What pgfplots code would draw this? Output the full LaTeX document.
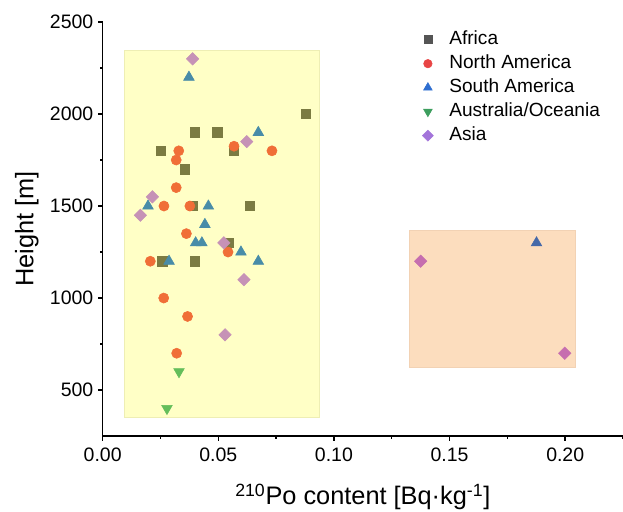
\documentclass[border=0pt]{standalone}
\usepackage{pgfplots}
\pgfplotsset{compat=1.18}
\usepackage{fontspec}
\setmainfont{Liberation Sans}
\definecolor{yfill}{HTML}{FFFFC6}
\definecolor{ydraw}{HTML}{EEEEB4}
\definecolor{ofill}{HTML}{FCDDBE}
\definecolor{odraw}{HTML}{F2D2B4}
\definecolor{cAfr}{HTML}{7B7B42}
\definecolor{cNA}{HTML}{F06E37}
\definecolor{cSA}{HTML}{488CA8}
\definecolor{cAus}{HTML}{64BE5A}
\definecolor{cAsia}{HTML}{C692B6}
\definecolor{cSAo}{HTML}{4669A8}
\definecolor{cAsiao}{HTML}{C66EAF}
\definecolor{lAfr}{HTML}{555555}
\definecolor{lNA}{HTML}{E84545}
\definecolor{lSA}{HTML}{2E6ED0}
\definecolor{lAus}{HTML}{3D9E5E}
\definecolor{lAsia}{HTML}{A374DA}
\begin{document}
\begin{tikzpicture}
\begin{axis}[
  scale only axis, width=390.2pt, height=310.5pt,
  xmin=0, xmax=0.225, ymin=250, ymax=2500,
  axis x line*=bottom, axis y line*=left,
  axis line style={line width=1.1pt, -},
  tick style={line width=1.1pt, black},
  tick align=outside,
  major tick length=3.5pt, minor tick length=2pt,
  xtick={0,0.05,0.1,0.15,0.2}, minor xtick={0.025,0.075,0.125,0.175,0.225},
  ytick={500,1000,1500,2000,2500}, minor ytick={750,1250,1750,2250},
  xticklabels={0.00,0.05,0.10,0.15,0.20},
  yticklabels={500,1000,1500,2000,2500},
  /pgf/number format/assume math mode=true,
  /pgf/number format/set thousands separator={},
  ticklabel style={font=\fontsize{14.6}{17}\selectfont},
  xticklabel style={yshift=-2pt},
  every axis x label/.style={at={(axis description cs:0.5,-0.147)}, anchor=center, font=\fontsize{19}{22}\selectfont},
  every axis y label/.style={at={(axis description cs:-0.1456,0.5)}, anchor=center, rotate=90, font=\fontsize{19}{22}\selectfont},
  xlabel={\textsuperscript{210}Po content [Bq·kg\textsuperscript{-1}]},
  ylabel={Height [m]},
  legend style={at={(axis description cs:0.614,0.987)}, anchor=north west, draw=none, fill=none, inner sep=0pt,
    font=\fontsize{14.3}{17}\selectfont, row sep=0pt,
    nodes={text height=10.5pt, text depth=3.5pt, inner ysep=2pt},
    /tikz/every odd column/.append style={column sep=10pt}},
  legend cell align=left,
  clip=false,
]
\addplot[fill=yfill, draw=ydraw, line width=0.6pt, forget plot] coordinates {(0.0093,353) (0.0936,353) (0.0936,2343) (0.0093,2343)} -- cycle;
\addplot[fill=ofill, draw=odraw, line width=0.6pt, forget plot] coordinates {(0.1326,625) (0.2045,625) (0.2045,1367) (0.1326,1367)} -- cycle;

\addplot[only marks, mark=square*, mark size=3.5pt, color=cAfr, forget plot] coordinates {
(0.0878,2000)(0.0398,1900)(0.0496,1900)(0.0252,1800)(0.0568,1800)(0.0356,1700)(0.0389,1500)(0.0635,1500)(0.0546,1300)(0.0258,1200)(0.0398,1200)};
\addplot[only marks, mark=*, mark size=3.8pt, color=cNA, forget plot] coordinates {
(0.0329,1800)(0.0318,1750)(0.0568,1825)(0.0732,1800)(0.0318,1600)(0.0265,1500)(0.0377,1500)(0.0362,1350)(0.0542,1250)(0.0206,1200)(0.0264,1000)(0.0367,900)(0.032,700)};
\addplot[only marks, mark=triangle*, mark size=4.6pt, color=cSA, forget plot] coordinates {
(0.0373,2200)(0.0673,1900)(0.0196,1500)(0.0457,1500)(0.0442,1400)(0.0402,1300)(0.0429,1300)(0.0598,1250)(0.0287,1200)(0.0673,1200)};
\addplot[only marks, mark=triangle*, mark size=4.6pt, color=cSAo, forget plot] coordinates {(0.1876,1300)};
\addplot[only marks, mark=triangle*, mark size=4.6pt, mark options={rotate=180}, color=cAus, forget plot] coordinates {(0.033,600)(0.0278,400)};
\addplot[only marks, mark=square*, mark size=3.3pt, mark options={rotate=45}, color=cAsia, forget plot] coordinates {
(0.0389,2300)(0.0623,1850)(0.0215,1550)(0.0163,1450)(0.0524,1300)(0.0611,1100)(0.0529,800)};
\addplot[only marks, mark=square*, mark size=3.3pt, mark options={rotate=45}, color=cAsiao, forget plot] coordinates {(0.1375,1200)(0.1998,700)};

\addlegendimage{only marks, mark=square*, mark size=3pt, color=lAfr}
\addlegendentry{Africa}
\addlegendimage{only marks, mark=*, mark size=3.2pt, color=lNA}
\addlegendentry{North America}
\addlegendimage{only marks, mark=triangle*, mark size=3.8pt, color=lSA}
\addlegendentry{South America}
\addlegendimage{only marks, mark=triangle*, mark size=3.8pt, mark options={rotate=180}, color=lAus}
\addlegendentry{Australia/Oceania}
\addlegendimage{only marks, mark=square*, mark size=2.9pt, mark options={rotate=45}, color=lAsia}
\addlegendentry{Asia}
\end{axis}
\pgfresetboundingbox
\path (-77pt,-56.25pt) rectangle (390.2pt,327pt);
\end{tikzpicture}
\end{document}
